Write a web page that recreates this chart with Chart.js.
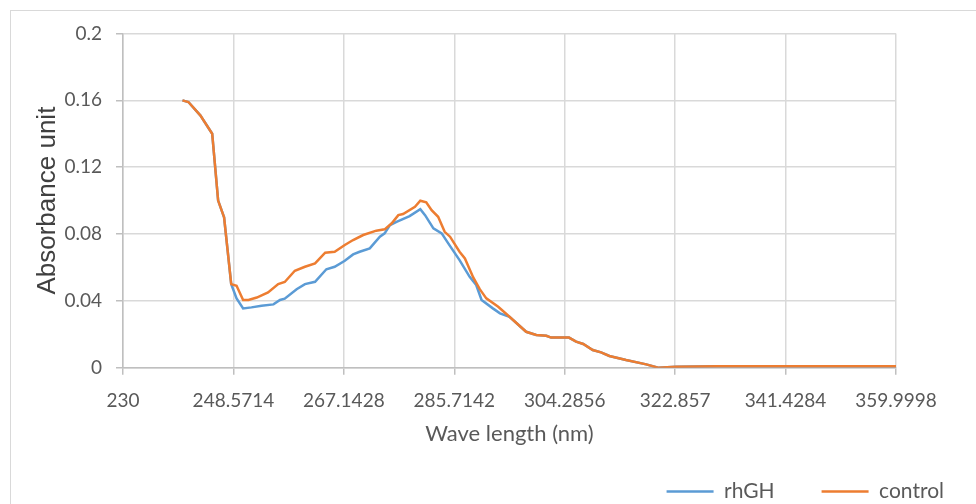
<!DOCTYPE html>
<html>
<head>
<meta charset="utf-8">
<script src="https://cdn.jsdelivr.net/npm/chart.js@4"></script>
<style>
    body { margin: 0; width: 976px; height: 504px; overflow: hidden; background: #fff; position: relative; }
    #frame { position: absolute; left: 10px; top: 10px; width: 1100px; height: 700px; border: 1.5px solid #d9d9d9; }
    #myChart { position: absolute; left: 0; top: 0; }
</style>
</head>
<body>
<div id="frame"></div>
<canvas id="myChart" width="1000" height="512"></canvas>
<script>
// values
const xTickLabels = ['230', '248.5714', '267.1428', '285.7142', '304.2856', '322.857', '341.4284', '359.9998'];
const yTickLabels = ['0', '0.04', '0.08', '0.12', '0.16', '0.2'];

const rhghWave = [240, 241, 243, 245, 246, 247, 248.2, 249.1, 250.2, 251.6, 253.3, 255.3, 256.4, 257.2, 259.2, 260.6,
    262.3, 264.2, 265.6, 267.3, 268.7, 269.8, 271.5, 273.2, 274, 274.9, 276, 278.2, 280, 280.8, 282.2, 283.6, 284.7,
    286.6, 288.3, 289.4, 290.3, 292.2, 293.4, 295, 297.8, 299.5, 301.2, 302, 305, 306.2, 307.4, 309, 310.4, 311.8,
    314.6, 318, 320, 323, 330, 340, 360];
const rhghAbs = [0.160, 0.159, 0.151, 0.140, 0.100, 0.090, 0.050, 0.0415, 0.0355, 0.0361, 0.0371, 0.0379, 0.0405,
    0.0413, 0.047, 0.050, 0.0514, 0.0589, 0.0604, 0.064, 0.0678, 0.0694, 0.0714, 0.0784, 0.0804, 0.0853, 0.0873,
    0.0907, 0.0949, 0.0913, 0.0834, 0.0804, 0.0744, 0.0644, 0.0544, 0.0495, 0.0405, 0.0355, 0.0325, 0.0305, 0.0215,
    0.0196, 0.0191, 0.018, 0.018, 0.0156, 0.0142, 0.0106, 0.0092, 0.007, 0.0046, 0.002, 0, 0.0006, 0.0008, 0.0008, 0.0008];

const controlWave = [240, 241, 243, 245, 246, 247, 248.2, 249.1, 250.2, 251.1, 252.5, 254.4, 256.1, 257.2, 258.9,
    260.6, 262.3, 264, 265.6, 267.3, 268.7, 270.4, 272.6, 274, 275.2, 276.3, 277.1, 279.1, 280, 281, 281.9, 283,
    284.1, 285, 286.6, 287.5, 288.9, 290, 291.1, 293.1, 295, 297.8, 299.5, 301.2, 302, 305, 306.2, 307.4, 309,
    310.4, 311.8, 314.6, 318, 320, 323, 330, 340, 360];
const controlAbs = [0.160, 0.159, 0.151, 0.140, 0.100, 0.090, 0.050, 0.049, 0.0405, 0.0405, 0.042, 0.045, 0.050,
    0.0513, 0.058, 0.0604, 0.0624, 0.0688, 0.0694, 0.0734, 0.0764, 0.0794, 0.082, 0.0828, 0.0864, 0.0913, 0.092,
    0.0963, 0.0999, 0.099, 0.0943, 0.0903, 0.0813, 0.0784, 0.0694, 0.0654, 0.054, 0.047, 0.0415, 0.0365, 0.0305,
    0.0215, 0.0196, 0.0191, 0.018, 0.018, 0.0156, 0.0142, 0.0106, 0.0092, 0.007, 0.0046, 0.002, 0, 0.0006, 0.0008,
    0.0008, 0.0008];

function toPoints(xs, ys) {
    return xs.map((x, i) => ({ x: x, y: ys[i] }));
}

function renderChart() {
    const ctx = document.getElementById('myChart').getContext('2d');
    Chart.defaults.font.family = 'Lato';
    Chart.defaults.color = '#595959';

    new Chart(ctx, {
        type: 'line',
        data: {
            datasets: [{
                label: 'rhGH',
                data: toPoints(rhghWave, rhghAbs),
                borderColor: '#5b9bd5',
                backgroundColor: '#5b9bd5',
                borderWidth: 2.5,
                pointRadius: 0,
                order: 1
            }, {
                label: 'control',
                data: toPoints(controlWave, controlAbs),
                borderColor: '#ed7d31',
                backgroundColor: '#ed7d31',
                borderWidth: 2.5,
                pointRadius: 0,
                order: 0 // drawn on top
            }]
        },
        options: {
            responsive: false,
            animation: false,
            layout: { padding: { left: 0, right: 9, top: 33.5, bottom: 0 } },
            plugins: {
                tooltip: { enabled: false },
                legend: {
                    position: 'bottom',
                    align: 'end',
                    labels: {
                        usePointStyle: true,
                        pointStyle: 'line',
                        pointStyleWidth: 47,
                        padding: 47,
                        font: { size: 21 },
                        color: '#595959',
                        sort: (a, b) => a.datasetIndex - b.datasetIndex
                    }
                }
            },
            scales: {
                x: {
                    type: 'linear',
                    min: 230,
                    max: 359.9998,
                    afterBuildTicks: s => { s.ticks = xTickLabels.map(v => ({ value: parseFloat(v) })); },
                    afterFit: s => { s.height = 66.3; },
                    ticks: {
                        callback: (v, i) => xTickLabels[i],
                        font: { size: 19 },
                        color: '#595959',
                        padding: 15,
                        maxRotation: 0
                    },
                    grid: { color: '#d9d9d9', lineWidth: 1.5, tickLength: 7, tickColor: '#bfbfbf' },
                    border: { color: '#bfbfbf', width: 1.5 },
                    title: {
                        display: true,
                        text: 'Wave length (nm)',
                        font: { size: 22 },
                        color: '#595959',
                        padding: { top: 0, bottom: -13.2 }
                    }
                },
                y: {
                    min: 0,
                    max: 0.2,
                    afterBuildTicks: s => { s.ticks = yTickLabels.map(v => ({ value: parseFloat(v) })); },
                    afterFit: s => { s.width = 123; },
                    ticks: {
                        callback: (v, i) => yTickLabels[i],
                        font: { size: 19 },
                        color: '#595959',
                        padding: 14
                    },
                    grid: { color: '#d9d9d9', lineWidth: 1.5, tickLength: 7, tickColor: '#bfbfbf' },
                    border: { color: '#bfbfbf', width: 1.5 },
                    title: {
                        display: true,
                        text: 'Absorbance unit',
                        font: { family: 'Liberation Sans', size: 26 },
                        color: '#404040',
                        padding: { top: 32, bottom: 0 }
                    }
                },
                // empty axis, only keeps room on the right of the plot
                spacer: {
                    position: 'right',
                    display: true,
                    afterFit: s => { s.width = 95; },
                    ticks: { display: false },
                    grid: { display: false },
                    border: { display: false }
                }
            }
        }
    });
}

renderChart();
</script>
</body>
</html>
